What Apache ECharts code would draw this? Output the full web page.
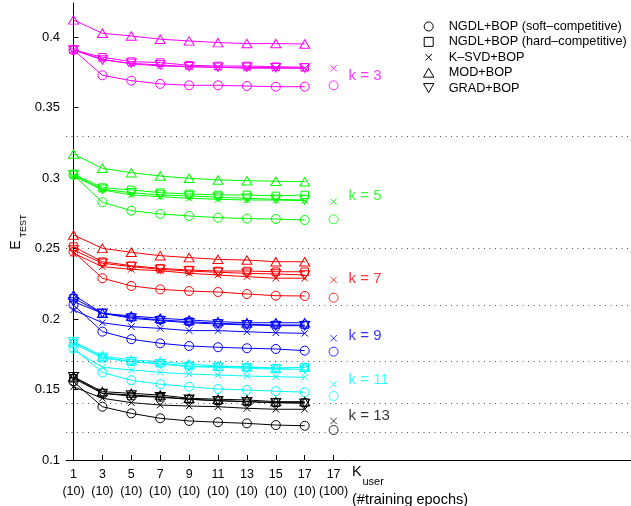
<!DOCTYPE html>
<html>
<head>
<meta charset="utf-8">
<script src="https://cdn.jsdelivr.net/npm/echarts@6/dist/echarts.min.js"></script>
<style>html,body{margin:0;padding:0;background:#fff}#c{width:631px;height:506px}</style>
</head>
<body>
<div id="c"></div>
<script>
// ---- data ----
const xKuser = [1, 3, 5, 7, 9, 11, 13, 15, 17, 17];
const xEpochs = [10, 10, 10, 10, 10, 10, 10, 10, 10, 100];
const yTicks = [0.1, 0.15, 0.2, 0.25, 0.3, 0.35, 0.4];
const kValues = [3, 5, 7, 9, 11, 13];
const methodNames = ['NGDL+BOP (soft–competitive)', 'NGDL+BOP (hard–competitive)', 'K–SVD+BOP', 'MOD+BOP', 'GRAD+BOP'];

// rows: k = 3, 5, 7, 9, 11, 13 ; columns: K_user = 1..17 (10 epochs)
const softNGDL = [
  [0.3910,0.3730,0.3692,0.3669,0.3659,0.3659,0.3654,0.3649,0.3649],
  [0.3023,0.2829,0.2769,0.2746,0.2732,0.2720,0.2713,0.2710,0.2703],
  [0.2478,0.2290,0.2235,0.2211,0.2199,0.2192,0.2178,0.2166,0.2164],
  [0.2100,0.1911,0.1857,0.1828,0.1809,0.1800,0.1793,0.1788,0.1776],
  [0.1793,0.1621,0.1566,0.1538,0.1520,0.1504,0.1497,0.1488,0.1481],
  [0.1556,0.1378,0.1331,0.1296,0.1277,0.1268,0.1260,0.1248,0.1243]
];
const hardNGDL = [
  [0.3910,0.3858,0.3827,0.3820,0.3801,0.3796,0.3796,0.3791,0.3787],
  [0.3030,0.2933,0.2916,0.2897,0.2888,0.2881,0.2881,0.2874,0.2881],
  [0.2514,0.2407,0.2379,0.2360,0.2348,0.2341,0.2341,0.2336,0.2336],
  [0.2148,0.2041,0.2013,0.1994,0.1982,0.1970,0.1963,0.1958,0.1958],
  [0.1828,0.1722,0.1698,0.1686,0.1667,0.1662,0.1658,0.1651,0.1658],
  [0.1580,0.1473,0.1454,0.1445,0.1431,0.1421,0.1414,0.1407,0.1407]
];
const ksvd = [
  [0.3910,0.3844,0.3811,0.3796,0.3791,0.3787,0.3780,0.3780,0.3780],
  [0.3016,0.2916,0.2881,0.2869,0.2857,0.2850,0.2845,0.2845,0.2840],
  [0.2467,0.2372,0.2353,0.2343,0.2325,0.2313,0.2301,0.2290,0.2290],
  [0.2065,0.1974,0.1946,0.1934,0.1918,0.1918,0.1910,0.1903,0.1899],
  [0.1781,0.1658,0.1639,0.1622,0.1610,0.1603,0.1596,0.1591,0.1587],
  [0.1520,0.1438,0.1407,0.1390,0.1383,0.1378,0.1367,0.1360,0.1360]
];
const modBOP = [
  [0.4123,0.4028,0.4009,0.3986,0.3974,0.3962,0.3955,0.3955,0.3952],
  [0.3172,0.3070,0.3039,0.3015,0.2999,0.2987,0.2982,0.2978,0.2975],
  [0.2597,0.2502,0.2474,0.2450,0.2436,0.2424,0.2419,0.2407,0.2407],
  [0.2171,0.2041,0.2022,0.2006,0.1994,0.1982,0.1974,0.1974,0.1974],
  [0.1840,0.1738,0.1710,0.1698,0.1681,0.1667,0.1662,0.1651,0.1658],
  [0.1591,0.1485,0.1473,0.1461,0.1438,0.1431,0.1426,0.1414,0.1414]
];
const gradBOP = [
  [0.3910,0.3839,0.3815,0.3803,0.3791,0.3787,0.3787,0.3784,0.3782],
  [0.3023,0.2921,0.2897,0.2881,0.2874,0.2864,0.2857,0.2850,0.2845],
  [0.2490,0.2396,0.2372,0.2353,0.2341,0.2332,0.2325,0.2320,0.2313],
  [0.2124,0.2041,0.2006,0.1989,0.1974,0.1965,0.1958,0.1953,0.1953],
  [0.1840,0.1729,0.1698,0.1681,0.1662,0.1658,0.1651,0.1644,0.1644],
  [0.1591,0.1473,0.1461,0.1449,0.1431,0.1421,0.1414,0.1407,0.1402]
];
// K_user = 17 with 100 epochs (only soft NGDL and K-SVD)
const softExtra = [0.3659, 0.2708, 0.2152, 0.1769, 0.1454, 0.1213];
const ksvdExtra = [0.3780, 0.2833, 0.2278, 0.1864, 0.1537, 0.1277];
// annotation anchors (data units)
const kLabelY = [0.3725, 0.2876, 0.2283, 0.1880, 0.1572, 0.1314];
const separatorY = [0.3257, 0.2514, 0.2055, 0.1718, 0.1449, 0.1207];

// ---- styles ----
const kColors = ['#ff00ff', '#00ff00', '#ff0000', '#0000ff', '#00ffff', '#000000'];
const FONT = 'Liberation Sans, Arial, Helvetica, sans-serif';
const SYM_SQ = 'path://M0,0L10,0L10,10L0,10Z';
const SYM_X = 'path://M0,0L10,10M10,0L0,10';
const SYM_X_LEG = 'path://M-2,-2L-2,-2M0,0L10,10M10,0L0,10M12,12L12,12';
const SYM_UP = 'path://M5,0L10,8.66L0,8.66Z';
const SYM_DN = 'path://M0,0L10,0L5,8.66Z';
const methodData = [softNGDL, hardNGDL, ksvd, modBOP, gradBOP];
const methodSym = ['circle', SYM_SQ, SYM_X, SYM_UP, SYM_DN];
const legendSym = ['circle', SYM_SQ, SYM_X_LEG, SYM_UP, SYM_DN];
const methodSize = [9, 7.5, 6.5, [10, 8.5], [10, 8.5]];
const extraIndex = 9;
const labelXPos = 9.5;

const series = [];
kValues.forEach((k, j) => {
  const c = kColors[j];
  methodData.forEach((md, m) => {
    series.push({
      name: methodNames[m],
      type: 'line',
      data: md[j].map((v, i) => [i, v]),
      symbol: methodSym[m],
      symbolSize: methodSize[m],
      lineStyle: { color: c, width: 1 },
      itemStyle: { color: 'rgba(0,0,0,0)', borderColor: c, borderWidth: 1 },
      emphasis: { disabled: true },
      z: 3
    });
  });
  series.push({
    name: methodNames[0], type: 'scatter',
    data: [[extraIndex, softExtra[j]]],
    symbol: 'circle', symbolSize: 9,
    itemStyle: { color: 'rgba(0,0,0,0)', borderColor: c, borderWidth: 1 }, z: 3
  });
  series.push({
    name: methodNames[2], type: 'scatter',
    data: [[extraIndex, ksvdExtra[j]]],
    symbol: SYM_X, symbolSize: 6.5,
    itemStyle: { color: 'rgba(0,0,0,0)', borderColor: c, borderWidth: 1 }, z: 3
  });
  series.push({
    type: 'scatter', silent: true,
    data: [[labelXPos, kLabelY[j]]],
    symbolSize: 1, itemStyle: { color: 'rgba(0,0,0,0)' },
    label: { show: true, position: 'right', distance: 0, formatter: 'k = ' + k,
      color: c, fontSize: 15, fontFamily: FONT }
  });
});
series.push({
  type: 'line', data: [], silent: true,
  markLine: {
    silent: true, symbol: ['none', 'none'], animation: false,
    label: { show: false },
    lineStyle: { type: [1, 4.5], color: '#555', width: 1 },
    emphasis: { disabled: true },
    data: separatorY.map(v => ({ yAxis: v }))
  },
  z: 1
});

const chart = echarts.init(document.getElementById('c'), null, { renderer: 'canvas' });
chart.setOption({
  animation: false,
  backgroundColor: '#fff',
  textStyle: { fontFamily: FONT },
  grid: { left: 66, right: 0, top: 3, bottom: 46, containLabel: false },
  legend: {
    orient: 'vertical', left: 418, top: 15,
    itemWidth: 30, itemHeight: 9, itemGap: 2.4,
    selectedMode: false,
    textStyle: { fontSize: 12.7, color: '#000', fontFamily: FONT, lineHeight: 12 },
    itemStyle: { color: 'rgba(0,0,0,0)', borderColor: '#000', borderWidth: 1 },
    data: methodNames.map((n, m) => ({ name: n, icon: legendSym[m] }))
  },
  xAxis: {
    type: 'value', min: -0.26, max: 19.29,
    axisLine: { lineStyle: { color: '#000', width: 1 } },
    axisTick: { inside: true, length: 5, lineStyle: { color: '#000' },
      customValues: xKuser.map((_, i) => i) },
    axisLabel: { customValues: xKuser.map((_, i) => i), margin: 6,
      color: '#000', fontSize: 12.5, lineHeight: 17, fontFamily: FONT,
      formatter: v => xKuser[Math.round(v)] + '\n(' + xEpochs[Math.round(v)] + ')' },
    splitLine: { show: false }
  },
  yAxis: {
    type: 'value', min: 0.1, max: 0.4243,
    axisLine: { show: true, lineStyle: { color: '#000', width: 1 } },
    axisTick: { show: true, inside: true, length: 5, lineStyle: { color: '#000' }, customValues: yTicks },
    axisLabel: { customValues: yTicks, margin: 6, color: '#000', fontSize: 13, fontFamily: FONT,
      formatter: v => String(parseFloat(v.toFixed(2))) },
    splitLine: { show: false }
  },
  graphic: [
    { type: 'text', x: 16, y: 245, rotation: Math.PI / 2,
      style: { text: 'E', fontSize: 14, fontFamily: FONT, fill: '#000', align: 'center', verticalAlign: 'middle' } },
    { type: 'text', x: 23.5, y: 226, rotation: Math.PI / 2,
      style: { text: 'TEST', fontSize: 9, fontFamily: FONT, fill: '#000', align: 'center', verticalAlign: 'middle' } },
    { type: 'text', x: 352, y: 472,
      style: { text: 'K', fontSize: 14.5, fontFamily: FONT, fill: '#000', align: 'left', verticalAlign: 'middle' } },
    { type: 'text', x: 362.5, y: 481.5,
      style: { text: 'user', fontSize: 11, fontFamily: FONT, fill: '#000', align: 'left', verticalAlign: 'middle' } },
    { type: 'text', x: 352, y: 499.5,
      style: { text: '(#training epochs)', fontSize: 14.5, fontFamily: FONT, fill: '#000', align: 'left', verticalAlign: 'middle' } }
  ],
  series: series
});
</script>
</body>
</html>
